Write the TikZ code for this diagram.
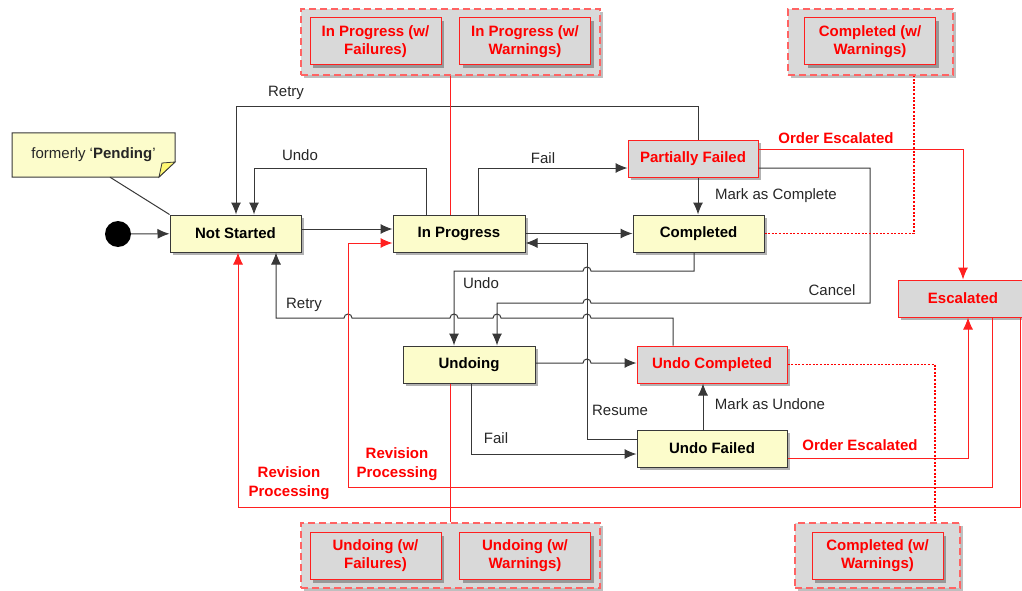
\documentclass[tikz,border=0pt]{standalone}
\usepackage{fontspec}
\setmainfont{Liberation Sans}
\usetikzlibrary{arrows.meta,shadows}
\definecolor{stfill}{HTML}{FCFCCB}
\definecolor{gfill}{HTML}{D9D9D9}
\definecolor{gline}{HTML}{383838}
\definecolor{rline}{HTML}{FF2020}

\begin{document}
\begin{tikzpicture}[x=1pt, y=-1pt, >={Latex[length=12pt,width=10pt]},
    state/.style={rectangle, draw=gline, line width=1pt, fill=stfill, minimum height=37pt,
        font=\bfseries\fontsize{15}{18}\selectfont,
        drop shadow={shadow xshift=3pt, shadow yshift=-3pt, fill=black, opacity=0.3}},
    rstate/.style={state, draw=rline, fill=gfill, text=red},
    subbox/.style={rstate, minimum width=131pt, minimum height=47pt, align=center},
    grp/.style={rectangle, draw=rline!70, fill=gfill, line width=1.4pt, dash pattern=on 7pt off 4pt,
        drop shadow={shadow xshift=3pt, shadow yshift=-3pt, fill=black, opacity=0.25}},
    lbl/.style={font=\fontsize{15}{18}\selectfont, text=black!85},
    rlbl/.style={font=\bfseries\fontsize{15}{19}\selectfont, text=red, align=center},
    link/.style={->, draw=gline, line width=1pt},
    rlink/.style={draw=rline, line width=1pt},
    dots/.style={draw=red, line width=1.3pt, dash pattern=on 2pt off 1.6pt}]
    \useasboundingbox (0,0) rectangle (1022,591);

    % note
    \draw[gline, line width=1pt, fill=stfill] (12,133) -- (175,133) -- (175,162) -- (159,177) -- (12,177) -- cycle;
    \draw[gline, line width=0.8pt, fill=yellow!55] (159,177) -- (162,163) -- (175,162) -- cycle;
    \node[lbl, minimum width=163pt, minimum height=44pt] (N) at (93.5,155) {formerly ‘\textbf{Pending}’};

    % states
    \node[circle, fill=black, minimum size=26pt, inner sep=0pt] (I) at (118,234) {};
    \node[state, minimum width=131pt] (NS) at (235.5,233.5) {Not Started};
    \node[state, minimum width=132pt] (IP) at (459,233.5) {In Progress};
    \node[state, minimum width=131pt] (CO) at (698.5,233.5) {Completed};
    \node[rstate, minimum width=130pt] (PF) at (693,158.5) {Partially Failed};
    \node[rstate, minimum width=130pt] (ES) at (963,298.5) {Escalated};
    \node[state, minimum width=132pt] (UG) at (469,364.5) {Undoing};
    \node[rstate, minimum width=150pt] (UC) at (712,364.5) {Undo Completed};
    \node[state, minimum width=150pt] (UF) at (712,448.5) {Undo Failed};

    % groups
    \node[grp, minimum width=299pt, minimum height=66pt] (GA) at (450.5,42) {};
    \node[subbox] (GA1) at (375.5,41.5) {In Progress (w/\\Failures)};
    \node[subbox] (GA2) at (525,41.5) {In Progress (w/\\Warnings)};
    \node[grp, minimum width=165pt, minimum height=66pt] (GB) at (870.5,42) {};
    \node[subbox] (GB1) at (870,41.5) {Completed (w/\\Warnings)};
    \node[grp, minimum width=299pt, minimum height=65pt] (GC) at (450.5,555.5) {};
    \node[subbox] (GC1) at (375.5,556) {Undoing (w/\\Failures)};
    \node[subbox] (GC2) at (525,556) {Undoing (w/\\Warnings)};
    \node[grp, minimum width=165pt, minimum height=65pt] (GD) at (877.5,555.5) {};
    \node[subbox] (GD1) at (877.5,556) {Completed (w/\\Warnings)};

    % labels
    \node[lbl] (L1) at (286,93) {Retry};
    \node[lbl] (L2) at (300,155) {Undo};
    \node[lbl] (L3) at (543,158) {Fail};
    \node[lbl] (L4) at (776,196) {Mark as Complete};
    \node[lbl] (L5) at (481,283) {Undo};
    \node[lbl] (L6) at (832,290) {Cancel};
    \node[lbl] (L7) at (304,305) {Retry};
    \node[lbl] (L8) at (620,410) {Resume};
    \node[lbl] (L9) at (770,404) {Mark as Undone};
    \node[lbl] (L10) at (496,438) {Fail};
    \node[rlbl] (L11) at (836,138) {Order Escalated};
    \node[rlbl] (L12) at (860,445) {Order Escalated};
    \node[rlbl] (L13) at (397,464) {Revision\\Processing};
    \node[rlbl] (L14) at (289,483) {Revision\\Processing};

    % transitions
    \draw[gline, line width=1pt] (N.south -| 110,0) -- (NS.north west);
    \draw[link] (I) -- (NS);
    \draw[link] (NS.east |- 0,229) -- (IP.west |- 0,229);
    \draw[link] (PF.north -| 698,0) |- (236,107) -- (NS.north -| 236,0);
    \draw[link] (IP.north -| 426,0) |- (254,168) -- (NS.north -| 254,0);
    \draw[link] (IP.north -| 478,0) |- (PF.west |- 0,168);
    \draw[link] (IP) -- (CO);
    \draw[link] (PF.south -| 698,0) -- (CO.north -| 698,0);
    \draw[link] (CO.south -| 694,0) |- (591,271) arc[start angle=0, end angle=180, radius=4pt]
        -- (454,271) -- (UG.north -| 454,0);
    \draw[link] (PF.east |- 0,168) -| (870,303) -- (591,303) arc[start angle=0, end angle=180, radius=4pt]
        -- (497,303) -- (UG.north -| 497,0);
    \draw[link] (UC.north -| 673,0) |- (591,318) arc[start angle=0, end angle=180, radius=4pt]
        -- (501,318) arc[start angle=0, end angle=180, radius=4pt]
        -- (458,318) arc[start angle=0, end angle=180, radius=4pt]
        -- (352,318) arc[start angle=0, end angle=180, radius=4pt]
        -- (276,318) -- (NS.south -| 276,0);
    \draw[link] (UG.east |- 0,363) -- (583,363) arc[start angle=180, end angle=0, radius=4pt]
        -- (UC.west |- 0,363);
    \draw[link] (UG.south -| 471,0) |- (UF.west |- 0,454);
    \draw[link] (UF.west |- 0,439) -| (587,243) -- (IP.east |- 0,243);
    \draw[link] (UF.north -| 703,0) -- (UC.south -| 703,0);

    % escalation and revision
    \draw[rlink, ->] (PF.east |- 0,149) -| (ES.north);
    \draw[rlink, ->] (UF.east |- 0,458) -| (ES.south -| 968,0);
    \draw[rlink, ->] (ES.south -| 992,0) |- (348,487) |- (IP.west |- 0,243);
    \draw[rlink, ->] (ES.south -| 1020,0) |- (238,507) -- (NS.south -| 238,0);
    \draw[dots] (CO.east) -| (GB.south -| 914,0);
    \draw[dots] (UC.east) -| (GD.north -| 935,0);
    \draw[rlink] (GA.south) -- (IP.north -| GA.south);
    \draw[rlink] (UG.south -| GC.north) -- (GC.north);
\end{tikzpicture}
\end{document}
